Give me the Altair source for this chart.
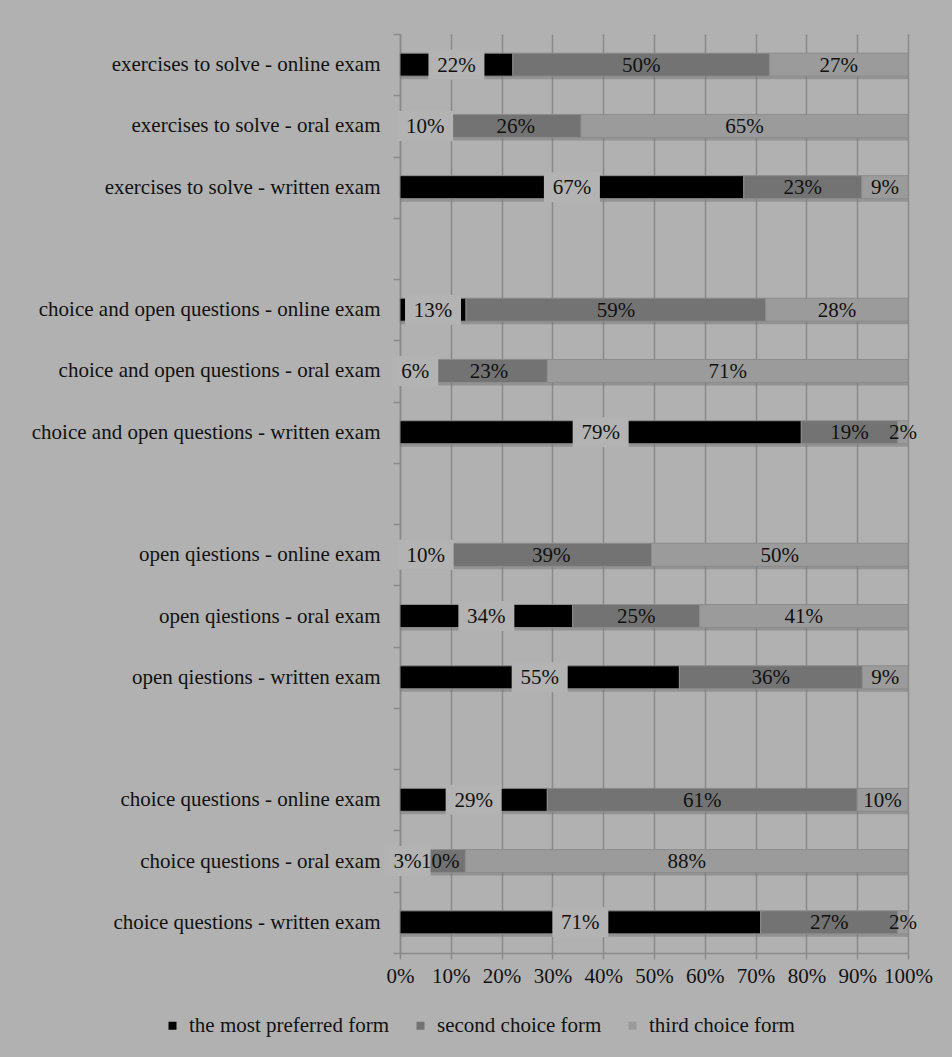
import altair as alt
import pandas as pd

categories = [
    "exercises to solve - online exam",
    "exercises to solve - oral exam",
    "exercises to solve - written exam",
    "choice and open questions - online exam",
    "choice and open questions - oral exam",
    "choice and open questions - written exam",
    "open qiestions - online exam",
    "open qiestions - oral exam",
    "open qiestions - written exam",
    "choice questions - online exam",
    "choice questions - oral exam",
    "choice questions - written exam",
]
series_names = ["the most preferred form", "second choice form", "third choice form"]
most_preferred = [22, 10, 67, 13, 6, 79, 10, 34, 55, 29, 3, 71]
second_choice = [50, 26, 23, 59, 23, 19, 39, 25, 36, 61, 10, 27]
third_choice = [27, 65, 9, 28, 71, 2, 50, 41, 9, 10, 88, 2]
series_colors = ["#000000", "#737373", "#9b9b9b"]
x_ticks = [0, 0.1, 0.2, 0.3, 0.4, 0.5, 0.6, 0.7, 0.8, 0.9, 1.0]

# top -> bottom, blank spacer rows between the groups
row_domain = (categories[0:3] + [" "] + categories[3:6] + ["  "]
              + categories[6:9] + ["   "] + categories[9:12])

rows = []
for i, c in enumerate(categories):
    for k, (s, vals) in enumerate(zip(series_names, [most_preferred, second_choice, third_choice])):
        rows.append({"category": c, "series": s, "rank": k, "value": vals[i]})
df = pd.DataFrame(rows)

FONT = "Liberation Serif"
TXT = "#111111"
GRID = "#8a8a8a"

base = alt.Chart(df).transform_joinaggregate(
    total="sum(value)", groupby=["category"]
).transform_window(
    cum="sum(value)", groupby=["category"], sort=[alt.SortField("rank", order="ascending")],
    frame=[None, 0],
).transform_calculate(
    x0="(datum.cum - datum.value) / datum.total",
    x1="datum.cum / datum.total",
    xm="(datum.cum - datum.value / 2) / datum.total",
    txt="datum.value + '%'",
    bw="(datum.value >= 10 ? 56 : 46) / 508",
)

x_axis = alt.Axis(
    format="%", values=x_ticks, title=None, grid=True, gridColor=GRID, gridWidth=1.5,
    domainColor=GRID, domainWidth=1.5, tickColor=GRID, tickWidth=1.5, tickSize=6,
    labelPadding=6, labelFont=FONT, labelFontSize=21, labelColor=TXT,
    labelFlush=False, labelOverlap=False,
)
x_scale = alt.Scale(domain=[0, 1])
y_enc = alt.Y(
    "category:N",
    scale=alt.Scale(domain=row_domain, paddingInner=0, paddingOuter=0),
    axis=alt.Axis(
        title=None, tickBand="extent",
        domainColor=GRID, domainWidth=1.5, tickColor=GRID, tickWidth=1.5, tickSize=7,
        labelPadding=13, labelFont=FONT, labelFontSize=21, labelColor=TXT, labelLimit=400,
    ),
)

shadow = base.mark_bar(size=23, color="#7a7a7a", opacity=0.55, yOffset=3).encode(
    x=alt.X("x0:Q", scale=x_scale, axis=x_axis),
    x2="x1:Q",
    y=y_enc,
)

bars = base.mark_bar(size=23, stroke="#8c8c8c", strokeWidth=1).encode(
    x=alt.X("x0:Q", scale=x_scale, axis=x_axis),
    x2="x1:Q",
    y=y_enc,
    color=alt.Color(
        "series:N",
        scale=alt.Scale(domain=series_names, range=series_colors),
        legend=alt.Legend(
            title=None, orient="none", legendX=-238, legendY=981, direction="horizontal",
            symbolType="square", symbolSize=64, symbolStrokeWidth=0, labelOffset=6,
            labelFont=FONT, labelFontSize=21, labelColor=TXT, columnPadding=20,
            labelLimit=400,
        ),
    ),
)

boxes = base.transform_filter("datum.rank == 0").transform_calculate(
    bl="datum.xm - datum.bw / 2", br="datum.xm + datum.bw / 2"
).mark_bar(size=30, color="#b3b3b3").encode(
    x=alt.X("bl:Q", scale=x_scale, axis=x_axis),
    x2="br:Q",
    y=y_enc,
)

labels = base.mark_text(font=FONT, fontSize=21, color=TXT, baseline="middle", dy=1).encode(
    x=alt.X("xm:Q", scale=x_scale, axis=x_axis),
    y=y_enc,
    text="txt:N",
)

chart = alt.layer(shadow, bars, boxes, labels).properties(
    width=508, height=919,
    autosize=alt.AutoSizeParams(type="none"),
    padding={"left": 400, "top": 34, "right": 44, "bottom": 104},
    background="#b1b1b1",
).configure_view(strokeWidth=0)

chart.save("out.html", embed_options={"renderer": "svg", "actions": False})
